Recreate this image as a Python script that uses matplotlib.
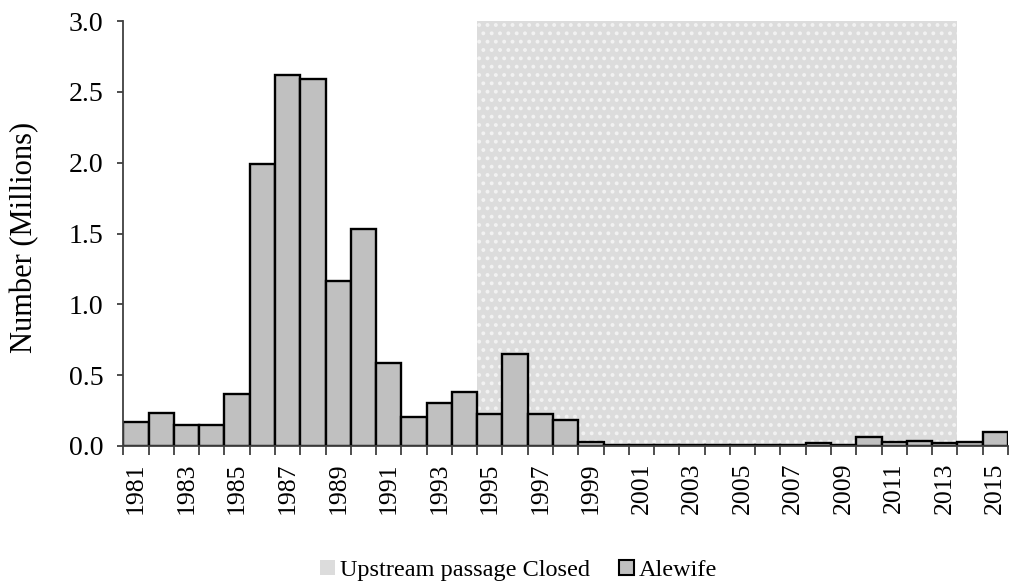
import numpy as np
import matplotlib.pyplot as plt
from matplotlib.patches import Patch

plt.rcParams['font.family'] = ['Liberation Serif', 'DejaVu Serif']
plt.rcParams['hatch.linewidth'] = 1.6

# Data (millions of alewife)
years = np.arange(1981, 2016)
alewife = [0.17, 0.23, 0.15, 0.15, 0.37, 1.99, 2.62, 2.59, 1.165, 1.53,
           0.585, 0.205, 0.30, 0.38, 0.225, 0.65, 0.225, 0.18, 0.028, 0.005,
           0.005, 0.005, 0.005, 0.005, 0.005, 0.005, 0.005, 0.018, 0.005, 0.062,
           0.028, 0.035, 0.018, 0.028, 0.10]
closed_start, closed_end = 1995, 2013   # upstream passage closed
tick_years = years[::2]

fig = plt.figure(figsize=(10.11, 5.86), dpi=100)
ax = fig.add_axes([0.122, 0.239, 0.875, 0.725])

# shaded closure period
ax.bar((closed_start + closed_end) / 2, 3.0, width=closed_end - closed_start + 1,
       color='#dcdcdc', edgecolor='#f2f2f2', hatch='..', linewidth=0, zorder=1)

ax.bar(years, alewife, width=1.0, color='#c0c0c0', edgecolor='black',
       linewidth=1.7, zorder=2)

ax.set_xlim(1980.5, 2015.5)
ax.set_ylim(0, 3.0)
ax.set_yticks(np.arange(0, 3.01, 0.5))
ax.set_yticklabels([f"{v:.1f}" for v in np.arange(0, 3.01, 0.5)])
ax.set_xticks(tick_years)
ax.set_xticklabels([str(y) for y in tick_years], rotation=90)
ax.set_xticks(np.arange(1980.5, 2016, 1.0), minor=True)
ax.tick_params(axis='x', which='major', length=0, pad=12, labelsize=18.5)
ax.tick_params(axis='x', which='minor', length=6.5, width=1.3, color='#404040', direction='out')
ax.tick_params(axis='y', length=4.5, width=1.3, color='#404040', labelsize=20, pad=10)

for s in ['top', 'right']:
    ax.spines[s].set_visible(False)
for s in ['left', 'bottom']:
    ax.spines[s].set_color('#404040')
    ax.spines[s].set_linewidth(1.3)

ax.set_ylabel('Number (Millions)', fontsize=22)
ax.yaxis.set_label_coords(-0.095, 0.49)

handles = [Patch(facecolor='#dcdcdc', edgecolor='none', label='Upstream passage Closed'),
           Patch(facecolor='#c0c0c0', edgecolor='black', linewidth=1.5, label='Alewife')]
fig.legend(handles=handles, loc='center', bbox_to_anchor=(0.513, 0.027), ncol=2,
           frameon=False, fontsize=17.5, handlelength=0.6, handleheight=0.6,
           handletextpad=0.2, columnspacing=1.2)

fig.savefig('out.png', dpi=100)
